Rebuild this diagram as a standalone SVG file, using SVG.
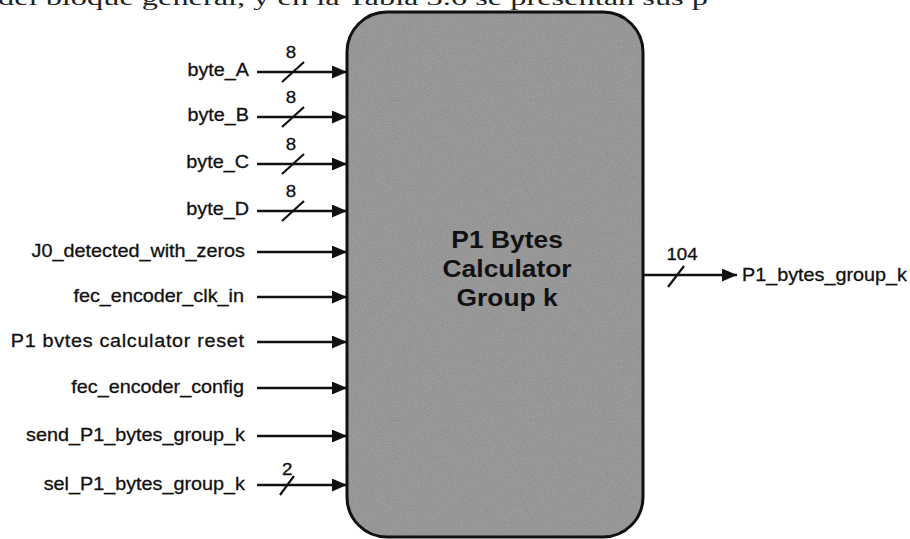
<svg xmlns="http://www.w3.org/2000/svg" width="910" height="539" viewBox="0 0 910 539">
  <style>
    .lbl { font-family: "Liberation Sans", Arial, sans-serif; font-size: 18px; fill: #111; stroke: #111; stroke-width: 0.3; }
    .bw { font-family: "Liberation Sans", Arial, sans-serif; font-size: 17px; fill: #111; stroke: #111; stroke-width: 0.3; text-anchor: middle; }
    .ttl { font-family: "Liberation Sans", Arial, sans-serif; font-size: 24px; font-weight: bold; fill: #111; text-anchor: middle; }
    .wire { stroke: #111; stroke-width: 2.5; fill: none; }
    .slash { stroke: #111; stroke-width: 2.2; fill: none; }
  </style>
  <defs>
    <marker id="ah" markerUnits="userSpaceOnUse" markerWidth="16" markerHeight="13" refX="15" refY="6.5" orient="auto">
      <path d="M0,0 L15,6.5 L0,13 Z" fill="#111"/>
    </marker>
    <filter id="grain" x="0" y="0" width="100%" height="100%">
      <feTurbulence type="fractalNoise" baseFrequency="0.8" numOctaves="2" seed="3" result="n"/>
      <feColorMatrix in="n" type="matrix" values="0 0 0 0 0  0 0 0 0 0  0 0 0 0 0  0 0 0 0.35 0" result="dark"/>
      <feComposite in="dark" in2="SourceGraphic" operator="in" result="d2"/>
      <feMerge><feMergeNode in="SourceGraphic"/><feMergeNode in="d2"/></feMerge>
    </filter>
  </defs>
  <rect width="910" height="539" fill="#ffffff"/>

  <text x="-2" y="5" textLength="710" lengthAdjust="spacingAndGlyphs" style="font-family: 'Liberation Serif', 'Times New Roman', serif; font-size: 22px; fill: #222;">del bloque general, y en la Tabla 3.6 se presentan sus p</text>

  <g id="block">
    <rect x="347" y="12" width="296" height="525" rx="40" ry="40" fill="#a5a5a5" filter="url(#grain)"/>
    <rect x="347" y="12" width="296" height="525" rx="40" ry="40" fill="none" stroke="#111" stroke-width="3"/>
    <g transform="scale(1.1,1)">
      <text class="ttl" x="461" y="248">P1 Bytes</text>
      <text class="ttl" x="461" y="277">Calculator</text>
      <text class="ttl" x="461" y="306">Group k</text>
    </g>
  </g>

  <g id="connectors">
    <line class="wire" x1="257" y1="72" x2="347" y2="72" marker-end="url(#ah)"/>
    <line class="wire" x1="257" y1="117" x2="347" y2="117" marker-end="url(#ah)"/>
    <line class="wire" x1="257" y1="164" x2="347" y2="164" marker-end="url(#ah)"/>
    <line class="wire" x1="257" y1="211" x2="347" y2="211" marker-end="url(#ah)"/>
    <line class="wire" x1="257" y1="252" x2="347" y2="252" marker-end="url(#ah)"/>
    <line class="wire" x1="257" y1="297" x2="347" y2="297" marker-end="url(#ah)"/>
    <line class="wire" x1="257" y1="342" x2="347" y2="342" marker-end="url(#ah)"/>
    <line class="wire" x1="257" y1="388" x2="347" y2="388" marker-end="url(#ah)"/>
    <line class="wire" x1="257" y1="436" x2="347" y2="436" marker-end="url(#ah)"/>
    <line class="wire" x1="257" y1="485" x2="347" y2="485" marker-end="url(#ah)"/>
    <line class="wire" x1="643" y1="275" x2="737" y2="275" marker-end="url(#ah)"/>

    <line class="slash" x1="282" y1="82" x2="304" y2="62"/>
    <line class="slash" x1="282" y1="127" x2="304" y2="107"/>
    <line class="slash" x1="282" y1="174" x2="304" y2="154"/>
    <line class="slash" x1="282" y1="221" x2="304" y2="201"/>
    <line class="slash" x1="280" y1="495" x2="294" y2="476"/>
    <line class="slash" x1="668" y1="287" x2="684" y2="266"/>
  </g>

  <g transform="scale(1.1,1)">
    <g id="in_byte_A"><text class="lbl" x="226.4" y="76" text-anchor="end">byte_A</text><text class="bw" x="264.5" y="58">8</text></g>
    <g id="in_byte_B"><text class="lbl" x="226.4" y="121" text-anchor="end">byte_B</text><text class="bw" x="264.5" y="103">8</text></g>
    <g id="in_byte_C"><text class="lbl" x="226.4" y="168" text-anchor="end">byte_C</text><text class="bw" x="264.5" y="150">8</text></g>
    <g id="in_byte_D"><text class="lbl" x="226.4" y="215" text-anchor="end">byte_D</text><text class="bw" x="264.5" y="197">8</text></g>
    <g id="in_j0"><text class="lbl" x="222.7" y="257" text-anchor="end">J0_detected_with_zeros</text></g>
    <g id="in_clk"><text class="lbl" x="221.8" y="302" text-anchor="end">fec_encoder_clk_in</text></g>
    <g id="in_reset"><text class="lbl" x="221.8" y="347" text-anchor="end" textLength="212" lengthAdjust="spacing">P1 bvtes calculator reset</text></g>
    <g id="in_config"><text class="lbl" x="221.8" y="393" text-anchor="end">fec_encoder_config</text></g>
    <g id="in_send"><text class="lbl" x="222.7" y="441" text-anchor="end">send_P1_bytes_group_k</text></g>
    <g id="in_sel"><text class="lbl" x="222.7" y="490" text-anchor="end">sel_P1_bytes_group_k</text><text class="bw" x="261" y="475">2</text></g>
    <g id="out_p1"><text class="lbl" x="674.5" y="281">P1_bytes_group_k</text><text class="bw" x="620" y="260">104</text></g>
  </g>
</svg>
